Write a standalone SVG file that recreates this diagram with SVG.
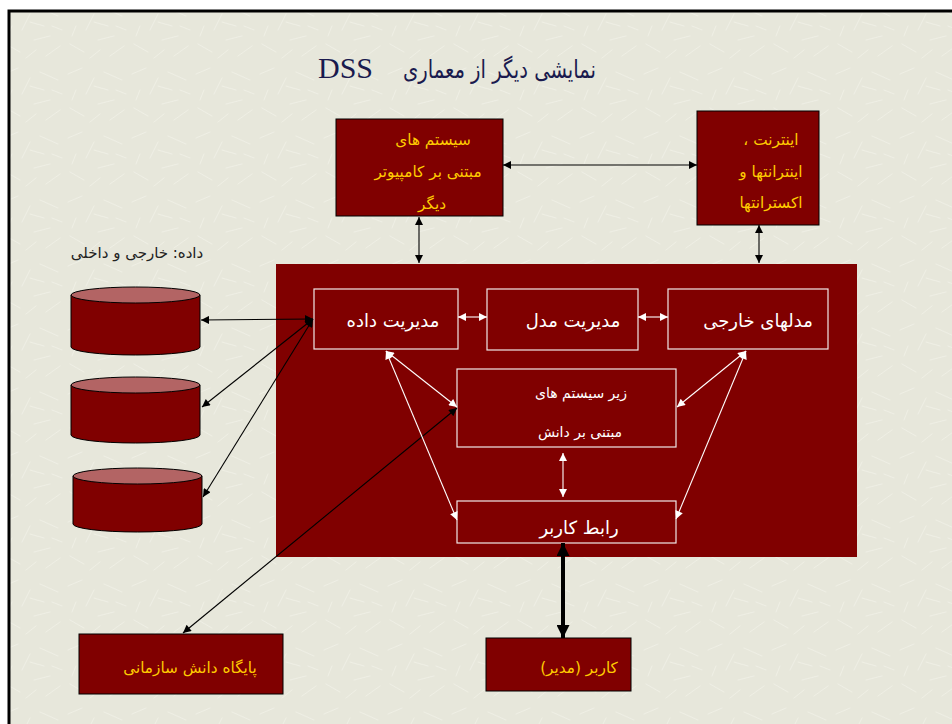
<svg xmlns="http://www.w3.org/2000/svg" width="952" height="724" viewBox="0 0 952 724">
  <style>
    .fa { font-family: "DejaVu Sans", "Noto Sans", sans-serif; direction: rtl; }
    .box { fill: #800000; stroke: #000; stroke-width: 1; }
    .inner { fill: none; stroke: #f0e8e8; stroke-width: 1.2; }
    .ylw { fill: #ffcc00; font-size: 15.3px; }
    .wht { fill: #ffffff; font-size: 18px; }
    .blk { stroke: #000; stroke-width: 1.1; fill: none; }
    .wl { stroke: #ffffff; stroke-width: 1.1; fill: none; }
    .cyl { fill: #800000; stroke: #000; stroke-width: 1; }
    .cyltop { fill: #b36464; stroke: #000; stroke-width: 1; }
  </style>
  <defs>
    <marker id="ab" viewBox="0 0 10 10" refX="10" refY="5" markerWidth="10" markerHeight="8" markerUnits="userSpaceOnUse" orient="auto-start-reverse">
      <path d="M0,0 L10,5 L0,10 z" fill="#000"/>
    </marker>
    <marker id="aw" viewBox="0 0 10 10" refX="10" refY="5" markerWidth="10" markerHeight="8" markerUnits="userSpaceOnUse" orient="auto-start-reverse">
      <path d="M0,0 L10,5 L0,10 z" fill="#fff"/>
    </marker>
    <marker id="at" viewBox="0 0 10 10" refX="10" refY="5" markerWidth="14" markerHeight="13" markerUnits="userSpaceOnUse" orient="auto-start-reverse">
      <path d="M0,0 L10,5 L0,10 z" fill="#000"/>
    </marker>
    <pattern id="tex" width="64" height="64" patternUnits="userSpaceOnUse">
      <rect width="64" height="64" fill="#e7e7db"/>
      <g stroke="#f2f2e9" stroke-width="1" stroke-linecap="round" opacity="0.7">
        <path d="M4,10 L18,4 M22,30 L30,14 M40,8 L58,16 M6,44 L20,52 M34,40 L50,36 M46,56 L60,46 M12,26 L8,36 M52,26 L62,30 M26,58 L36,50 M30,22 L44,26"/>
      </g>
    </pattern>
  </defs>

  <!-- page and frame -->
  <rect x="0" y="0" width="952" height="724" fill="#ffffff"/>
  <rect x="8" y="10" width="960" height="730" fill="url(#tex)"/>
  <path d="M9,730 L9,11 L960,11" fill="none" stroke="#000" stroke-width="3"/>

  <!-- title -->
  <g id="title" fill="#1a1a4e">
    <text x="318" y="78" font-size="30" font-family="'Liberation Serif', serif">DSS</text>
    <text class="fa" x="596" y="78" text-anchor="start" font-size="25" textLength="193" lengthAdjust="spacingAndGlyphs">نمایشی دیگر از معماری</text>
  </g>

  <!-- main DSS block -->
  <g id="dss">
    <rect x="276" y="264" width="581" height="293" fill="#800000"/>
  </g>

  <g id="other-systems">
    <rect class="box" x="336" y="119" width="167" height="97"/>
    <text class="fa ylw" x="433" y="145" text-anchor="middle">سیستم های</text>
    <text class="fa ylw" x="428" y="177" text-anchor="middle">مبتنی بر کامپیوتر</text>
    <text class="fa ylw" x="432" y="209" text-anchor="middle">دیگر</text>
  </g>

  <g id="internet">
    <rect class="box" x="697" y="111" width="122" height="114"/>
    <text class="fa ylw" x="771" y="145" text-anchor="middle">اینترنت ،</text>
    <text class="fa ylw" x="771" y="177" text-anchor="middle">اینترانتها و</text>
    <text class="fa ylw" x="771" y="208" text-anchor="middle">اکسترانتها</text>
  </g>

  <g id="data-label">
    <text class="fa" x="137" y="258" text-anchor="middle" font-size="15" fill="#222">داده: خارجی و داخلی</text>
  </g>

  <g id="db1">
    <path class="cyl" d="M71,295 L71,347 A64.5,8 0 0 0 200,347 L200,295 Z"/>
    <ellipse class="cyltop" cx="135.5" cy="295" rx="64.5" ry="8"/>
  </g>
  <g id="db2">
    <path class="cyl" d="M71,385 L71,435 A64.5,8 0 0 0 200,435 L200,385 Z"/>
    <ellipse class="cyltop" cx="135.5" cy="385" rx="64.5" ry="8"/>
  </g>
  <g id="db3">
    <path class="cyl" d="M73,476 L73,524 A64.5,8 0 0 0 202,524 L202,476 Z"/>
    <ellipse class="cyltop" cx="137.5" cy="476" rx="64.5" ry="8"/>
  </g>

  <g id="data-mgmt">
    <rect class="inner" x="314" y="289" width="144" height="60"/>
    <text class="fa wht" x="393" y="327" text-anchor="middle">مدیریت داده</text>
  </g>
  <g id="model-mgmt">
    <rect class="inner" x="487" y="289" width="151" height="61"/>
    <text class="fa wht" x="573" y="327" text-anchor="middle">مدیریت  مدل</text>
  </g>
  <g id="external-models">
    <rect class="inner" x="668" y="289" width="160" height="60"/>
    <text class="fa wht" x="758" y="327" text-anchor="middle">مدلهای خارجی</text>
  </g>
  <g id="kb-subsystems">
    <rect class="inner" x="457" y="369" width="219" height="78"/>
    <text class="fa" x="581" y="398" text-anchor="middle" font-size="14" fill="#fff">زیر سیستم های</text>
    <text class="fa" x="580" y="437" text-anchor="middle" font-size="14" fill="#fff">مبتنی بر دانش</text>
  </g>
  <g id="user-interface">
    <rect class="inner" x="457" y="501" width="219" height="42"/>
    <text class="fa wht" x="579" y="534" text-anchor="middle">رابط کاربر</text>
  </g>

  <g id="org-kb">
    <rect class="box" x="79" y="634" width="204" height="60"/>
    <text class="fa ylw" x="190" y="673" text-anchor="middle">پایگاه دانش سازمانی</text>
  </g>
  <g id="user">
    <rect class="box" x="486" y="638" width="145" height="53"/>
    <text class="fa ylw" x="579" y="673" text-anchor="middle">کاربر (مدیر)</text>
  </g>

  <!-- connectors -->
  <g id="connectors">
    <line class="blk" x1="503" y1="165" x2="697" y2="165" marker-start="url(#ab)" marker-end="url(#ab)"/>
    <line class="blk" x1="419" y1="217" x2="419" y2="263" marker-start="url(#ab)" marker-end="url(#ab)"/>
    <line class="blk" x1="759" y1="225" x2="759" y2="263" marker-start="url(#ab)" marker-end="url(#ab)"/>

    <line class="blk" x1="201" y1="320" x2="313" y2="319" marker-start="url(#ab)" marker-end="url(#ab)"/>
    <line class="blk" x1="202" y1="407" x2="313" y2="319" marker-start="url(#ab)" marker-end="url(#ab)"/>
    <line class="blk" x1="203" y1="497" x2="313" y2="319" marker-start="url(#ab)" marker-end="url(#ab)"/>
    <line class="blk" x1="183" y1="633" x2="457" y2="408" marker-start="url(#ab)" marker-end="url(#ab)"/>

    <line class="wl" x1="458" y1="317" x2="487" y2="317" marker-start="url(#aw)" marker-end="url(#aw)"/>
    <line class="wl" x1="638" y1="317" x2="668" y2="317" marker-start="url(#aw)" marker-end="url(#aw)"/>
    <line class="wl" x1="386" y1="351" x2="457" y2="407" marker-start="url(#aw)" marker-end="url(#aw)"/>
    <line class="wl" x1="386" y1="351" x2="457" y2="520" marker-start="url(#aw)" marker-end="url(#aw)"/>
    <line class="wl" x1="746" y1="351" x2="677" y2="407" marker-start="url(#aw)" marker-end="url(#aw)"/>
    <line class="wl" x1="746" y1="351" x2="676" y2="519" marker-start="url(#aw)" marker-end="url(#aw)"/>
    <line class="wl" x1="563" y1="453" x2="563" y2="497" marker-start="url(#aw)" marker-end="url(#aw)"/>

    <line x1="563" y1="543" x2="563" y2="638" stroke="#000" stroke-width="4" marker-start="url(#at)" marker-end="url(#at)"/>
  </g>
</svg>
